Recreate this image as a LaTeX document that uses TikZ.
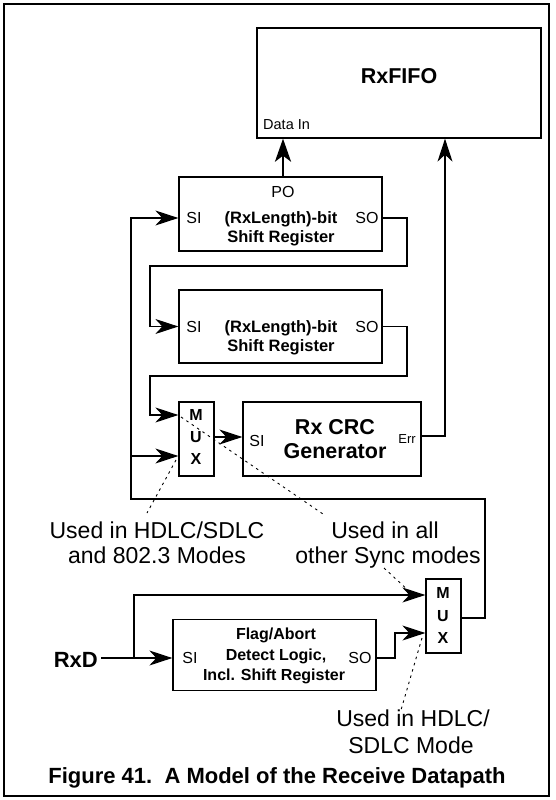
\documentclass[tikz,border=0pt]{standalone}
\usepackage{fontspec}
\setmainfont{Liberation Sans}
\usetikzlibrary{arrows.meta}
\begin{document}
\begin{tikzpicture}[x=1pt,y=-1pt,
  box/.style={draw, line width=1.3pt, inner sep=0pt, rectangle},
  arr/.style={line width=1.1pt, -{Stealth[length=23pt,width=15pt,inset=7pt]}},
  bigarr/.style={line width=2.8pt, -{Stealth[length=23pt,width=16pt,inset=6pt]}},
  dots/.style={line width=0.9pt, dash pattern=on 2.5pt off 4pt},
  rt/.style={inner sep=0pt, anchor=base, font=\fontsize{16}{19}\selectfont},
  bt/.style={inner sep=0pt, anchor=base, font=\bfseries\fontsize{16.5}{19}\selectfont},
  ft/.style={inner sep=0pt, anchor=base, font=\bfseries\fontsize{16}{19}\selectfont},
  mt/.style={inner sep=0pt, anchor=base, font=\bfseries\fontsize{16}{18}\selectfont},
  big/.style={inner sep=0pt, anchor=base, font=\bfseries\fontsize{21.5}{25}\selectfont},
  lab/.style={inner sep=0pt, anchor=base, font=\fontsize{23}{27}\selectfont}
]
\useasboundingbox (0,0) rectangle (556,800);
% frame
\node[draw, line width=1.3pt, inner sep=0pt, minimum width=545pt, minimum height=792pt] (frame) at (276.5,400) {};

% RxFIFO
\node[box, minimum width=284pt, minimum height=110pt] (fifo) at (399,83) {};
\node[big] (fifot) at (399,83) {RxFIFO};
\node[inner sep=0pt, anchor=base west, font=\fontsize{14.5}{17}\selectfont] (datain) at (263,129) {Data In};

% shift register 1
\node[box, minimum width=203pt, minimum height=74pt] (sr1) at (280.5,214) {};
\node[rt] (sr1po) at (283,197) {PO};
\node[rt] (sr1si) at (194,223) {SI};
\node[rt] (sr1so) at (367,223) {SO};
\node[bt] (sr1a) at (281,223) {(RxLength)-bit};
\node[bt] (sr1b) at (281,242) {Shift Register};

% shift register 2
\node[box, minimum width=203pt, minimum height=73pt] (sr2) at (280.5,326.5) {};
\node[rt] (sr2si) at (194,332) {SI};
\node[rt] (sr2so) at (367,332) {SO};
\node[bt] (sr2a) at (281,332) {(RxLength)-bit};
\node[bt] (sr2b) at (281,351) {Shift Register};

% mux 1
\node[box, minimum width=35pt, minimum height=74pt] (mux1) at (196.5,439) {};
\node[mt] (m1m) at (196,420) {M};
\node[mt] (m1u) at (196,442) {U};
\node[mt] (m1x) at (196,464) {X};

% CRC
\node[box, minimum width=178pt, minimum height=74pt] (crc) at (332,439) {};
\node[big] (crca) at (335,434) {Rx CRC};
\node[big] (crcb) at (335,458) {Generator};
\node[rt] (crcsi) at (257,446) {SI};
\node[inner sep=0pt, anchor=base, font=\fontsize{13}{15}\selectfont] (crcerr) at (407,443) {Err};

% mux 2
\node[box, minimum width=35pt, minimum height=74pt] (mux2) at (443.5,616) {};
\node[mt] (m2m) at (443,598) {M};
\node[mt] (m2u) at (443,621) {U};
\node[mt] (m2x) at (443,643) {X};

% flag/abort
\node[box, minimum width=203pt, minimum height=71pt] (flag) at (274.5,655) {};
\node[ft] (fla) at (276,639) {Flag/Abort};
\node[ft] (flb) at (276,660) {Detect Logic,};
\node[ft] (flc) at (274,680) {Incl. Shift Register};
\node[rt] (flsi) at (190,663) {SI};
\node[rt] (flso) at (360,663) {SO};

% RxD
\node[inner sep=0pt, anchor=base east, font=\bfseries\fontsize{22}{26}\selectfont] (rxd) at (98,667) {RxD};

% labels
\node[lab] (l1a) at (157,538) {Used in HDLC/SDLC};
\node[lab] (l1b) at (157,563) {and 802.3 Modes};
\node[lab] (l2a) at (385,538) {Used in all};
\node[lab] (l2b) at (388,563) {other Sync modes};
\node[lab] (l3a) at (413,726) {Used in HDLC/};
\node[lab] (l3b) at (411,753) {SDLC Mode};
\node[inner sep=0pt, anchor=base, font=\bfseries\fontsize{22}{26}\selectfont] (cap) at (277,783) {Figure 41.\ \ A Model of the Receive Datapath};

% coordinates
\coordinate (po) at ([xshift=2.5pt]sr1.north);
\coordinate (ex) at (445,0);
\coordinate (r1) at (407,266);
\coordinate (l1) at (150,266);
\coordinate (r2) at (407,376);
\coordinate (l2) at (150,376);
\coordinate (m1hi) at ([yshift=24pt]mux1.west);
\coordinate (m1lo) at ([yshift=-17pt]mux1.west);
\coordinate (fbR) at (485,499);
\coordinate (fbL) at (131,499);
\coordinate (rxdout) at (101,658);
\coordinate (br) at (134,658);
\coordinate (s1) at (395,645);

% connectors
\draw[bigarr] (po) -- (po |- fifo.south);
\draw[arr] ([yshift=3pt]crc.east) -| (fifo.south -| ex);
\draw[arr] ([yshift=-4pt]sr1.east) -| (r1) -- (l1) |- (sr2.west);
\draw[arr] (sr2.east) -| (r2) -- (l2) |- (m1hi);
\draw[arr] ([yshift=2pt]mux1.east) -- ([yshift=2pt]crc.west);
\draw[arr] ([yshift=-2pt]mux2.east) -| (fbR) -- (fbL) |- ([yshift=-4pt]sr1.west);
\draw[arr] (fbL |- m1lo) -- (m1lo);
\draw[arr] (rxdout) -- ([yshift=-3pt]flag.west);
\draw[arr] (br) |- ([yshift=21pt]mux2.west);
\draw[arr] ([yshift=-3pt]flag.east) -| (s1) |- ([yshift=-17pt]mux2.west);

% dotted pointers
\coordinate (d1a) at (176,460);
\coordinate (d1b) at (147,513);
\coordinate (d2a) at (181,417);
\coordinate (d2b) at (323,514);
\coordinate (d3a) at (384,568);
\coordinate (d3b) at (410,592);
\coordinate (d4a) at (422,638);
\coordinate (d4b) at (401,710);
\draw[dots] (d1a) -- (d1b);
\draw[dots] (d2a) -- (d2b);
\draw[dots] (d3a) -- (d3b);
\draw[dots] (d4a) -- (d4b);
\end{tikzpicture}
\end{document}
